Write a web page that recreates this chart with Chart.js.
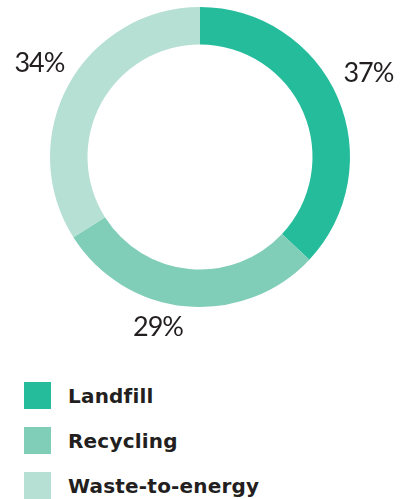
<!DOCTYPE html>
<html>
<head>
<meta charset="utf-8">
<script src="https://cdn.jsdelivr.net/npm/chart.js@4/dist/chart.umd.min.js"></script>
<style>
  html, body { margin: 0; padding: 0; background: #fff; }
  body { width: 402px; height: 499px; overflow: hidden; position: relative; }
  #wrap { position: absolute; left: 0; top: 0; width: 402px; height: 340px; }
  #legend { position: absolute; left: 24px; top: 382px; margin: 0; padding: 0; list-style: none; }
  #legend li { display: flex; align-items: center; height: 27px; margin-bottom: 18px; }
  #legend span.box { width: 27px; height: 27px; margin-right: 17px; }
  #legend span.txt { font-family: "DejaVu Sans", sans-serif; font-weight: bold; font-size: 20px; color: #231f20; letter-spacing: 0.2px; }
</style>
</head>
<body>
<div id="wrap"><canvas id="wasteChart"></canvas></div>
<ul id="legend"></ul>
<script>
const categories = ["Landfill", "Recycling", "Waste-to-energy"];
const shares = [37, 29, 34];
const pctLabels = ["37%", "29%", "34%"];
const colors = ["#25bc9c", "#80cdb8", "#b7e0d4"];

// labels sit outside the ring, a little nudged like in the print version
const outsideLabels = {
  id: "outsideLabels",
  afterDatasetsDraw(chart, args, opts) {
    const { ctx } = chart;
    const arcs = chart.getDatasetMeta(0).data;
    ctx.save();
    ctx.font = opts.font;
    ctx.fillStyle = opts.color;
    ctx.textAlign = "center";
    ctx.textBaseline = "middle";
    if ("letterSpacing" in ctx) ctx.letterSpacing = "-1px";
    arcs.forEach((arc, i) => {
      const p = arc.getProps(["x", "y", "startAngle", "endAngle", "outerRadius"], true);
      const mid = (p.startAngle + p.endAngle) / 2 + (opts.shift[i] || 0) * Math.PI / 180;
      const r = p.outerRadius + opts.offset[i];
      ctx.fillText(pctLabels[i], p.x + Math.cos(mid) * r, p.y + Math.sin(mid) * r);
    });
    ctx.restore();
  },
};

const ctx = document.getElementById("wasteChart").getContext("2d");
new Chart(ctx, {
  type: "doughnut",
  data: {
    labels: categories,
    datasets: [{
      data: shares,
      backgroundColor: colors,
      borderWidth: 0,
      hoverOffset: 0,
    }],
  },
  options: {
    responsive: true,
    maintainAspectRatio: false,
    animation: false,
    cutout: "75%",
    layout: { padding: { left: 50, right: 52, top: 7, bottom: 33 } },
    plugins: {
      legend: { display: false },
      tooltip: { enabled: false },
      outsideLabels: {
        font: "400 27px Lato, 'DejaVu Sans', sans-serif",
        color: "#231f20",
        offset: [38, 25, 36],
        shift: [-3, 8.5, 1.5],
      },
    },
  },
  plugins: [outsideLabels],
});

// legend
const legend = document.getElementById("legend");
categories.forEach((name, i) => {
  const li = document.createElement("li");
  li.innerHTML = `<span class="box" style="background:${colors[i]}"></span><span class="txt">${name}</span>`;
  legend.appendChild(li);
});
</script>
</body>
</html>
